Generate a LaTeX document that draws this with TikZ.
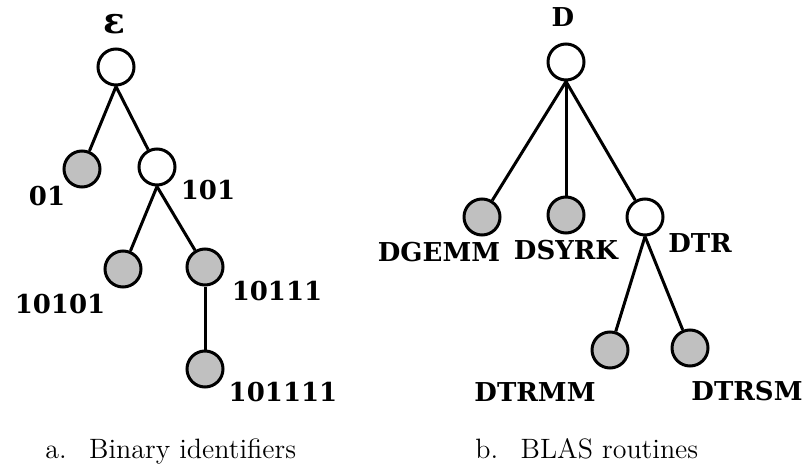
\documentclass[tikz,border=0pt]{standalone}
\usepackage{fontspec}
\newfontfamily\lblfont{DejaVu Serif}
\definecolor{leafgray}{RGB}{192,192,192}
\tikzset{
  open/.style={circle,draw,fill=white,line width=1.5pt,inner sep=0pt,minimum size=18pt},
  leaf/.style={open,fill=leafgray},
  lbl/.style={font=\lblfont\bfseries\fontsize{13}{15}\selectfont,inner sep=0pt},
  capt/.style={font=\fontsize{14}{16}\selectfont,inner sep=0pt,anchor=base west}
}
\begin{document}
\begin{tikzpicture}[x=0.5pt,y=-0.5pt]
\useasboundingbox (0,0) rectangle (806,470);
% a. binary identifiers
\node (eps) at (116, 67) [open] {};
\node (n01) at (82, 169) [leaf] {};
\node (n101) at (157, 167) [open] {};
\node (n10101) at (123, 269) [leaf] {};
\node (n10111) at (205, 267) [leaf] {};
\node (n101111) at (205, 369) [leaf] {};
\node (leps) at (114, 24) [lbl,font=\lblfont\bfseries\fontsize{18}{20}\selectfont] {ε};
\node (l01) at (47, 196) [lbl] {01};
\node (l101) at (208, 190) [lbl] {101};
\node (l10101) at (60, 304) [lbl] {10101};
\node (l10111) at (277, 291) [lbl] {10111};
\node (l101111) at (283, 392) [lbl] {101111};

% b. BLAS routines
\node (D) at (566, 62) [open] {};
\node (DGEMM) at (482, 217) [leaf] {};
\node (DSYRK) at (566, 215) [leaf] {};
\node (DTR) at (645, 217) [open] {};
\node (DTRMM) at (610, 350) [leaf] {};
\node (DTRSM) at (690, 348) [leaf] {};
\node (lD) at (563, 17) [lbl] {D};
\node (lDGEMM) at (439, 252) [lbl] {DGEMM};
\node (lDSYRK) at (566, 250) [lbl] {DSYRK};
\node (lDTR) at (700, 243) [lbl] {DTR};
\node (lDTRMM) at (535, 392) [lbl] {DTRMM};
\node (lDTRSM) at (747, 391) [lbl] {DTRSM};

\tikzset{link/.style={-,line width=1.5pt}};
\path (eps.south) edge [link] (n01);
\path (eps.south) edge [link] (n101);
\path (n101.south) edge [link] (n10101);
\path (n101.south) edge [link] (n10111);
\path (n10111) edge [link] (n101111);
\path (D.south) edge [link] (DGEMM);
\path (D.south) edge [link] (DSYRK);
\path (D.south) edge [link] (DTR);
\path (DTR.south) edge [link] (DTRMM);
\path (DTR.south) edge [link] (DTRSM);

\node (capa) at (45, 458) [capt] {a.\hspace{0.8em}Binary identifiers};
\node (capb) at (475, 458) [capt] {b.\hspace{0.8em}BLAS routines};
\end{tikzpicture}
\end{document}
